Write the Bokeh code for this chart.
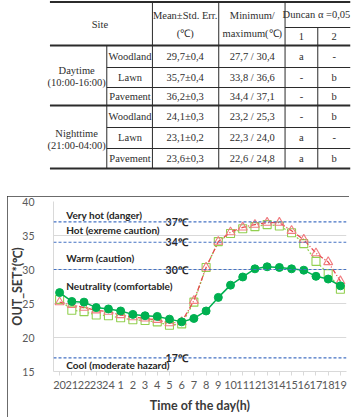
from bokeh.plotting import figure
from bokeh.layouts import column
from bokeh.models import FactorRange, Span, FixedTicker
from bokeh.core.properties import value
from bokeh.embed import file_html
from bokeh.resources import INLINE

# ---------------- table data ----------------
header_site = "Site"
header_mean = ["Mean±Std. Err.", "(℃)"]
header_minmax = ["Minimum/", "maximum(℃)"]
header_duncan = "Duncan  α =0,05"
duncan_groups = ["1", "2"]
periods = [["Daytime", "(10:00-16:00)"], ["Nighttime", "(21:00-04:00)"]]
sites = ["Woodland", "Lawn", "Pavement", "Woodland", "Lawn", "Pavement"]
mean_se = ["29,7±0,4", "35,7±0,4", "36,2±0,3", "24,1±0,3", "23,1±0,2", "23,6±0,3"]
min_max = ["27,7 / 30,4", "33,8 / 36,6", "34,4 / 37,1",
           "23,2 / 25,3", "22,3 / 24,0", "22,6 / 24,8"]
duncan1 = ["a", "-", "-", "-", "a", "a"]
duncan2 = ["-", "b", "b", "b", "-", "b"]

# ---------------- chart data ----------------
hours = ["20", "21", "22", "23", "24", "1", "2", "3", "4", "5", "6", "7",
         "8", "9", "10", "11", "12", "13", "14", "15", "16", "17", "18", "19"]
woodland = [26.6, 25.3, 25.2, 24.4, 24.2, 23.9, 23.4, 23.2, 23.1, 22.7, 22.3, 22.8,
            23.9, 25.9, 27.7, 28.9, 30.1, 30.4, 30.3, 30.1, 29.9, 29.0, 28.6, 27.6]
lawn = [25.6, 24.0, 23.8, 23.3, 23.2, 22.9, 22.6, 22.5, 22.3, 21.8, 22.0, 25.2,
        30.3, 34.1, 35.3, 36.0, 36.3, 36.6, 36.4, 35.4, 33.8, 31.2, 29.4, 27.1]
pavement = [25.2, 24.8, 24.4, 24.0, 23.8, 23.3, 23.0, 22.8, 22.6, 22.1, 22.3, 25.4,
            30.3, 34.1, 35.5, 36.2, 36.6, 36.9, 36.9, 35.7, 34.4, 32.4, 31.1, 28.3]
thresholds = [37, 34, 30, 17]
zones = ["Very hot (danger)", "Hot (exreme caution)", "Warm (caution)",
         "Neutrality (comfortable)", "Cool (moderate hazard)"]
zone_y = [38.0, 35.8, 31.7, 27.6, 16.0]
y_ticks = [15, 20, 25, 30, 35, 40]

SERIF = value("Liberation Serif")
SANS = value("Lato")
INK = "#2b2b2b"

# ================= table =================
t = figure(width=353, height=196, x_range=(0, 353), y_range=(196, 0),
           output_backend="svg", toolbar_location=None, min_border=0,
           x_axis_location=None, y_axis_location=None)
t.grid.visible = False
t.outline_line_color = None

thick_y = [1.5, 45, 105, 168]
t.segment(x0=[4] * 4, y0=thick_y, x1=[353] * 4, y1=thick_y, line_color=INK, line_width=1.8)
thin_y = [67, 87, 127, 148]
t.segment(x0=[70] * 4, y0=thin_y, x1=[353] * 4, y1=thin_y, line_color=INK, line_width=1)
t.segment(x0=[277], y0=[27], x1=[353], y1=[27], line_color=INK, line_width=1)
vx0 = [123, 200, 277, 315, 70]
vy0 = [1.5, 1.5, 1.5, 27, 45]
t.segment(x0=vx0, y0=vy0, x1=vx0, y1=[168] * 5, line_color=INK, line_width=1)

txt = dict(text_font=SERIF, text_font_size="10.5px", text_color="#2e2e2e",
           text_align="center", text_baseline="middle")
t.text(x=[62], y=[24], text=[header_site], **txt)
t.text(x=[161, 161], y=[15, 33], text=header_mean, **txt)
t.text(x=[239, 239], y=[15, 33], text=header_minmax, **txt)
t.text(x=[315], y=[14], text=[header_duncan], **txt)
t.text(x=[296, 334], y=[36, 36], text=duncan_groups, **txt)
t.text(x=[35, 35, 35, 35], y=[70, 82, 133, 145],
       text=periods[0] + periods[1], **txt)
row_y = [56, 77, 96, 116, 137, 158]
t.text(x=[97] * 6, y=row_y, text=sites, **txt)
t.text(x=[161] * 6, y=row_y, text=mean_se, **txt)
t.text(x=[239] * 6, y=row_y, text=min_max, **txt)
t.text(x=[296] * 6, y=row_y, text=duncan1, **txt)
t.text(x=[334] * 6, y=row_y, text=duncan2, **txt)

# ================= chart =================
# the chart sits in a framed box; the CSS outline draws that box
p = figure(width=342, height=221, x_range=FactorRange(factors=hours),
           y_range=(15, 40), output_backend="svg", toolbar_location=None,
           min_border_left=42, min_border_right=3, min_border_top=5,
           min_border_bottom=46, margin=(0, 4, 1, 7),
           styles={"outline": "2px solid #3a3a3a", "outline-offset": "-2px"})
p.outline_line_color = None
p.xgrid.visible = False
p.ygrid.grid_line_color = "#d9d9d9"
p.yaxis.ticker = FixedTicker(ticks=y_ticks)

for ax in (p.xaxis, p.yaxis):
    ax.axis_line_color = "#d9d9d9"
    ax.major_label_text_font = "Lato"
    ax.major_label_text_font_size = "11px"
    ax.major_label_text_color = "#595959"
    ax.axis_label_text_font = "Lato"
    ax.axis_label_text_font_style = "bold"
    ax.axis_label_text_font_size = "12.5px"
    ax.axis_label_text_color = "#3a3a3a"
    ax.minor_tick_line_color = None

p.yaxis.major_tick_line_color = None
p.yaxis.major_label_standoff = 13
p.yaxis.major_label_text_font_size = "10.5px"
p.yaxis.axis_label = "OUT_SET*(℃)"
p.yaxis.axis_label_standoff = -6

p.xaxis.major_tick_in = 0
p.xaxis.major_tick_out = 4
p.xaxis.major_tick_line_color = "#d9d9d9"
p.xaxis.major_label_standoff = 5
p.xaxis.axis_label = "Time of the day(h)"
p.xaxis.axis_label_standoff = 6

# comfort thresholds
for th in thresholds:
    p.add_layout(Span(location=th, dimension="width", line_color="#4472C4",
                      line_dash="3 2", line_width=1.1))
p.text(x=[11.0] * len(thresholds), y=thresholds, text=[f"{v}℃" for v in thresholds],
       text_font=SANS, text_font_style="bold", text_font_size="10.5px",
       text_color="#262626", text_align="right", text_baseline="middle")
p.text(x=[1.05] * len(zones), y=zone_y, text=zones,
       text_font=SANS, text_font_style="bold", text_font_size="10px",
       text_color="#262626", text_align="left", text_baseline="middle")

# series
p.line(hours, lawn, line_color="#92D050", line_width=1.3, line_dash="2 2")
p.scatter(hours, lawn, marker="square", size=8, line_color="#92D050",
          fill_color="white", line_width=1.1)
p.line(hours, pavement, line_color="#E8484E", line_width=1.3, line_dash="5 2 1 2")
p.scatter(hours, pavement, marker="triangle", size=9, line_color="#F07C80",
          fill_color="white", fill_alpha=0.0, line_width=1.1)
p.line(hours, woodland, line_color="#00B050", line_width=1.5)
p.scatter(hours, woodland, marker="circle", size=8, line_color="#00B050",
          fill_color="#00B050")

layout = column(t, p, spacing=0)
open("out.html", "w").write(file_html(layout, INLINE))
